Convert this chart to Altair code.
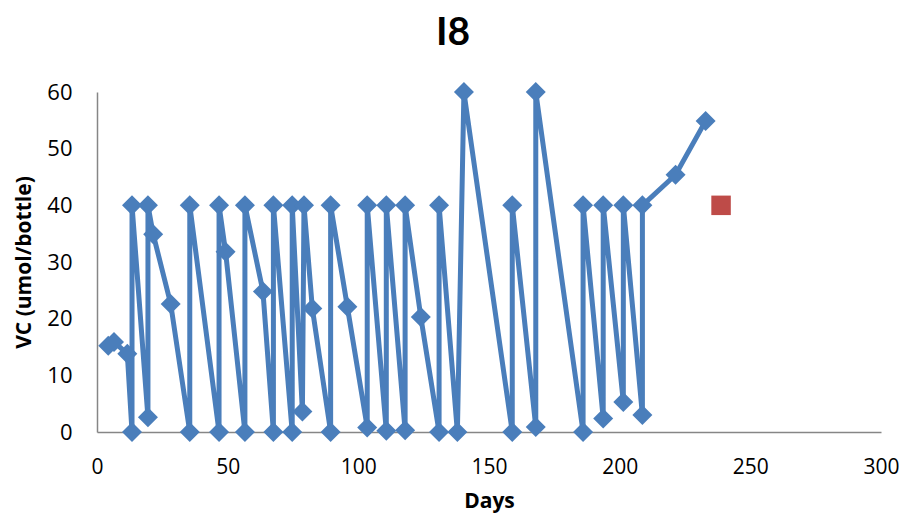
import altair as alt
import pandas as pd

# Main series (order of measurement preserved)
days = [4.3, 6.5, 11.6, 13.4, 13.4, 19.5, 19.5, 21.5, 28.2, 35.5, 35.5,
        46.7, 46.7, 49.2, 56.6, 56.6, 63.5, 67.5, 67.5, 74.7, 74.7, 78.6,
        79.2, 82.4, 89.4, 89.4, 95.8, 103.4, 103.4, 110.7, 110.7, 117.9,
        117.9, 123.9, 130.9, 130.9, 137.9, 140.4, 158.9, 158.9, 167.9,
        167.9, 186.0, 186.0, 193.7, 193.7, 201.4, 201.4, 208.7, 208.7,
        221.4, 232.9]
vc = [15.2, 15.9, 13.8, 0, 40, 2.6, 40, 34.9, 22.6, 0, 40,
      0, 40, 31.8, 0, 40, 24.8, 0, 40, 0, 40, 3.6,
      40, 21.8, 0, 40, 22.1, 0.8, 40, 0.2, 40, 0.3,
      40, 20.3, 0, 40, 0, 60, 0, 40, 0.9,
      60, 0, 40, 2.4, 40, 5.3, 40, 3.0, 40,
      45.4, 54.9]

# Second series (single red square)
extra_days = [238.8]
extra_vc = [40]

x_ticks = [0, 50, 100, 150, 200, 250, 300]
y_ticks = [0, 10, 20, 30, 40, 50, 60]

df = pd.DataFrame({"Days": days, "VC": vc, "idx": list(range(len(days)))})
df2 = pd.DataFrame({"Days": extra_days, "VC": extra_vc})

FONT = "Open Sans"
AXIS_COLOR = "#868686"

x = alt.X("Days:Q", scale=alt.Scale(domain=[0, 300], nice=False),
          axis=alt.Axis(values=x_ticks, title="Days", grid=False, ticks=False,
                        domainColor=AXIS_COLOR, domainWidth=1.5,
                        labelFont=FONT, labelFontSize=21, labelColor="#000",
                        labelPadding=24, titleFont=FONT, titleFontSize=21,
                        titleFontWeight="bold", titleColor="#000",
                        titlePadding=13, labelFlush=False))
y = alt.Y("VC:Q", scale=alt.Scale(domain=[0, 60], nice=False),
          axis=alt.Axis(values=y_ticks, title="VC (umol/bottle)", grid=False,
                        ticks=False, domainColor=AXIS_COLOR, domainWidth=1.5,
                        labelFont=FONT, labelFontSize=22, labelColor="#000",
                        labelPadding=25, titleFont=FONT, titleFontSize=21,
                        titleFontWeight="bold", titleColor="#000",
                        titlePadding=12, labelFlush=False))

line = alt.Chart(df).mark_line(color="#4A7EBB", strokeWidth=5).encode(
    x=x, y=y, order="idx:Q")
pts = alt.Chart(df).mark_point(shape="diamond", filled=True, size=400,
                               color="#4A7EBB", opacity=1).encode(x=x, y=y)
sq = alt.Chart(df2).mark_point(shape="square", filled=True, size=380,
                               color="#BE4B48", opacity=1).encode(x=x, y=y)

chart = alt.layer(line, pts, sq).properties(
    width=784, height=340,
    title=alt.TitleParams("I8", font="Lato", fontSize=39, fontWeight="bold",
                          color="#000", anchor="middle", dx=-36, offset=28),
    autosize="none",
    padding={"left": 89, "top": 84, "right": 18, "bottom": 83},
).configure_view(stroke=None)

chart.save("out.html", embed_options={"renderer": "svg", "actions": False})
